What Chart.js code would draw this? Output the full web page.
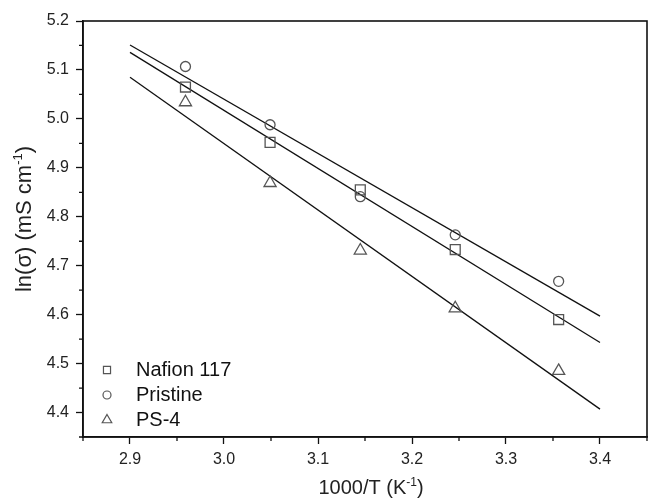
<!DOCTYPE html>
<html><head><meta charset="utf-8">
<script src="https://cdn.jsdelivr.net/npm/chart.js@4.4.1/dist/chart.umd.min.js"></script>
<style>html,body{margin:0;padding:0;background:#fff;} #wrap{width:649px;height:499px;}</style>
</head><body><div id="wrap"><canvas id="c" width="649" height="499"></canvas></div>
<script>
// ---- data ----
const xT = [2.959, 3.049, 3.145, 3.246, 3.356];           // 1000/T (K^-1)
const nafion   = [5.065, 4.952, 4.855, 4.733, 4.590];     // ln(sigma)
const pristine = [5.107, 4.988, 4.841, 4.763, 4.668];
const ps4      = [5.034, 4.869, 4.731, 4.613, 4.485];
const fitX        = [2.9, 3.4];
const nafionFit   = [5.136, 4.543];
const pristineFit = [5.151, 4.597];
const ps4Fit      = [5.085, 4.407];
const seriesLabels = ['Nafion 117', 'Pristine', 'PS-4'];
const xMajorTicks = [2.9, 3.0, 3.1, 3.2, 3.3, 3.4];
const xMinorTicks = [2.85, 2.95, 3.05, 3.15, 3.25, 3.35, 3.45];
const yMajorTicks = [4.4, 4.5, 4.6, 4.7, 4.8, 4.9, 5.0, 5.1, 5.2];
const yMinorTicks = [4.35, 4.45, 4.55, 4.65, 4.75, 4.85, 4.95, 5.05, 5.15];
const xTitleParts = [{t: '1000/T (K'}, {t: '-1', sup: true}, {t: ')'}];
const yTitleParts = [{t: 'ln(σ) (mS cm'}, {t: '-1', sup: true}, {t: ')'}];

const FAM = '"Liberation Sans", Arial, Helvetica, sans-serif';
const ink = '#111';
const markGray = '#555';
const pts = ys => xT.map((x, i) => ({x, y: ys[i]}));
const fit = ys => fitX.map((x, i) => ({x, y: ys[i]}));

function markerSet(label, ys, style, r, lr) {
  return {label, data: pts(ys), pointStyle: style, pointRadius: r, legendRadius: lr,
    pointBorderColor: markGray, pointBackgroundColor: 'rgba(0,0,0,0)', pointBorderWidth: 1.3,
    borderColor: markGray, showLine: false, inLegend: true, order: 1};
}
function fitSet(ys) {
  return {label: '', data: fit(ys), showLine: true, pointRadius: 0, borderColor: ink,
    borderWidth: 1.3, inLegend: false, order: 2};
}

function drawRichTitle(ctx, parts, size, cx, cy, rot) {
  ctx.save();
  ctx.translate(cx, cy);
  ctx.rotate(rot);
  const supSize = Math.round(size * 0.6);
  const widths = parts.map(p => { ctx.font = (p.sup ? supSize : size) + 'px ' + FAM; return ctx.measureText(p.t).width; });
  const total = widths.reduce((a, b) => a + b, 0);
  let x = -total / 2;
  ctx.fillStyle = '#222';
  ctx.textBaseline = 'alphabetic';
  parts.forEach((p, i) => {
    ctx.font = (p.sup ? supSize : size) + 'px ' + FAM;
    ctx.fillText(p.t, x, p.sup ? size * 0.36 - size * 0.42 : size * 0.36);
    x += widths[i];
  });
  ctx.restore();
}

const frameAndMinor = {
  id: 'frameAndMinor',
  afterDraw(chart) {
    const {ctx, chartArea: a, scales: {x, y}} = chart;
    ctx.save();
    ctx.strokeStyle = ink; ctx.lineWidth = 1.3;
    ctx.beginPath();
    xMinorTicks.forEach(v => { const p = x.getPixelForValue(v); ctx.moveTo(p, a.bottom); ctx.lineTo(p, a.bottom + 4); });
    yMinorTicks.forEach(v => { const p = y.getPixelForValue(v); ctx.moveTo(a.left, p); ctx.lineTo(a.left - 4, p); });
    ctx.stroke();
    ctx.lineWidth = 1.6;
    ctx.strokeRect(a.left, a.top, a.right - a.left, a.bottom - a.top);
    ctx.restore();
    // axis titles
    drawRichTitle(ctx, xTitleParts, 20, (a.left + a.right) / 2 + 6, chart.height - 12, 0);
    drawRichTitle(ctx, yTitleParts, 22, 23, (a.top + a.bottom) / 2 - 10, -Math.PI / 2);
  }
};

const insetLegend = {
  id: 'insetLegend',
  afterDraw(chart) {
    const {ctx, chartArea: a} = chart;
    const items = chart.data.datasets.filter(d => d.inLegend);
    ctx.save();
    ctx.font = '20px ' + FAM;
    ctx.textBaseline = 'middle';
    items.forEach((d, i) => {
      const cy = a.bottom - 67 + i * 25;
      const mx = a.left + 24;
      ctx.strokeStyle = markGray; ctx.lineWidth = 1.2; ctx.fillStyle = 'rgba(0,0,0,0)';
      Chart.helpers.drawPoint(ctx, {pointStyle: d.pointStyle, radius: d.legendRadius, borderWidth: 1.2, rotation: 0}, mx, cy);
      ctx.fillStyle = ink;
      ctx.fillText(d.label, a.left + 53, cy);
    });
    ctx.restore();
  }
};

new Chart(document.getElementById('c'), {
  type: 'scatter',
  data: {datasets: [
    markerSet(seriesLabels[0], nafion, 'rect', 7, 5),
    markerSet(seriesLabels[1], pristine, 'circle', 5, 4),
    markerSet(seriesLabels[2], ps4, 'triangle', 7, 5.5),
    fitSet(nafionFit), fitSet(pristineFit), fitSet(ps4Fit)
  ]},
  options: {
    responsive: false, animation: false,
    layout: {autoPadding: false, padding: {top: 21, right: 2, left: 0, bottom: 0}},
    plugins: {legend: {display: false}, tooltip: {enabled: false}},
    scales: {
      x: {
        type: 'linear', min: 2.85, max: 3.45,
        afterBuildTicks: s => { s.ticks = xMajorTicks.map(v => ({value: v})); },
        afterFit: s => { s.height = 62; s.paddingLeft = 0; s.paddingRight = 0; },
        ticks: {font: {family: FAM, size: 16}, color: '#222', padding: 6, maxRotation: 0, autoSkip: false,
          callback: v => Number(v).toFixed(1)},
        grid: {drawOnChartArea: false, drawTicks: true, tickLength: 7, tickWidth: 1.3, tickColor: ink},
        border: {display: true, color: ink, width: 1.6},
        title: {display: false}
      },
      y: {
        type: 'linear', min: 4.35, max: 5.2,
        afterBuildTicks: s => { s.ticks = yMajorTicks.map(v => ({value: v})); },
        afterFit: s => { s.width = 83; s.paddingTop = 0; s.paddingBottom = 0; },
        ticks: {font: {family: FAM, size: 16}, color: '#222', padding: 7, autoSkip: false,
          callback: v => Number(v).toFixed(1)},
        grid: {drawOnChartArea: false, drawTicks: true, tickLength: 7, tickWidth: 1.3, tickColor: ink},
        border: {display: true, color: ink, width: 1.6},
        title: {display: false}
      }
    }
  },
  plugins: [frameAndMinor, insetLegend]
});
</script></body></html>
